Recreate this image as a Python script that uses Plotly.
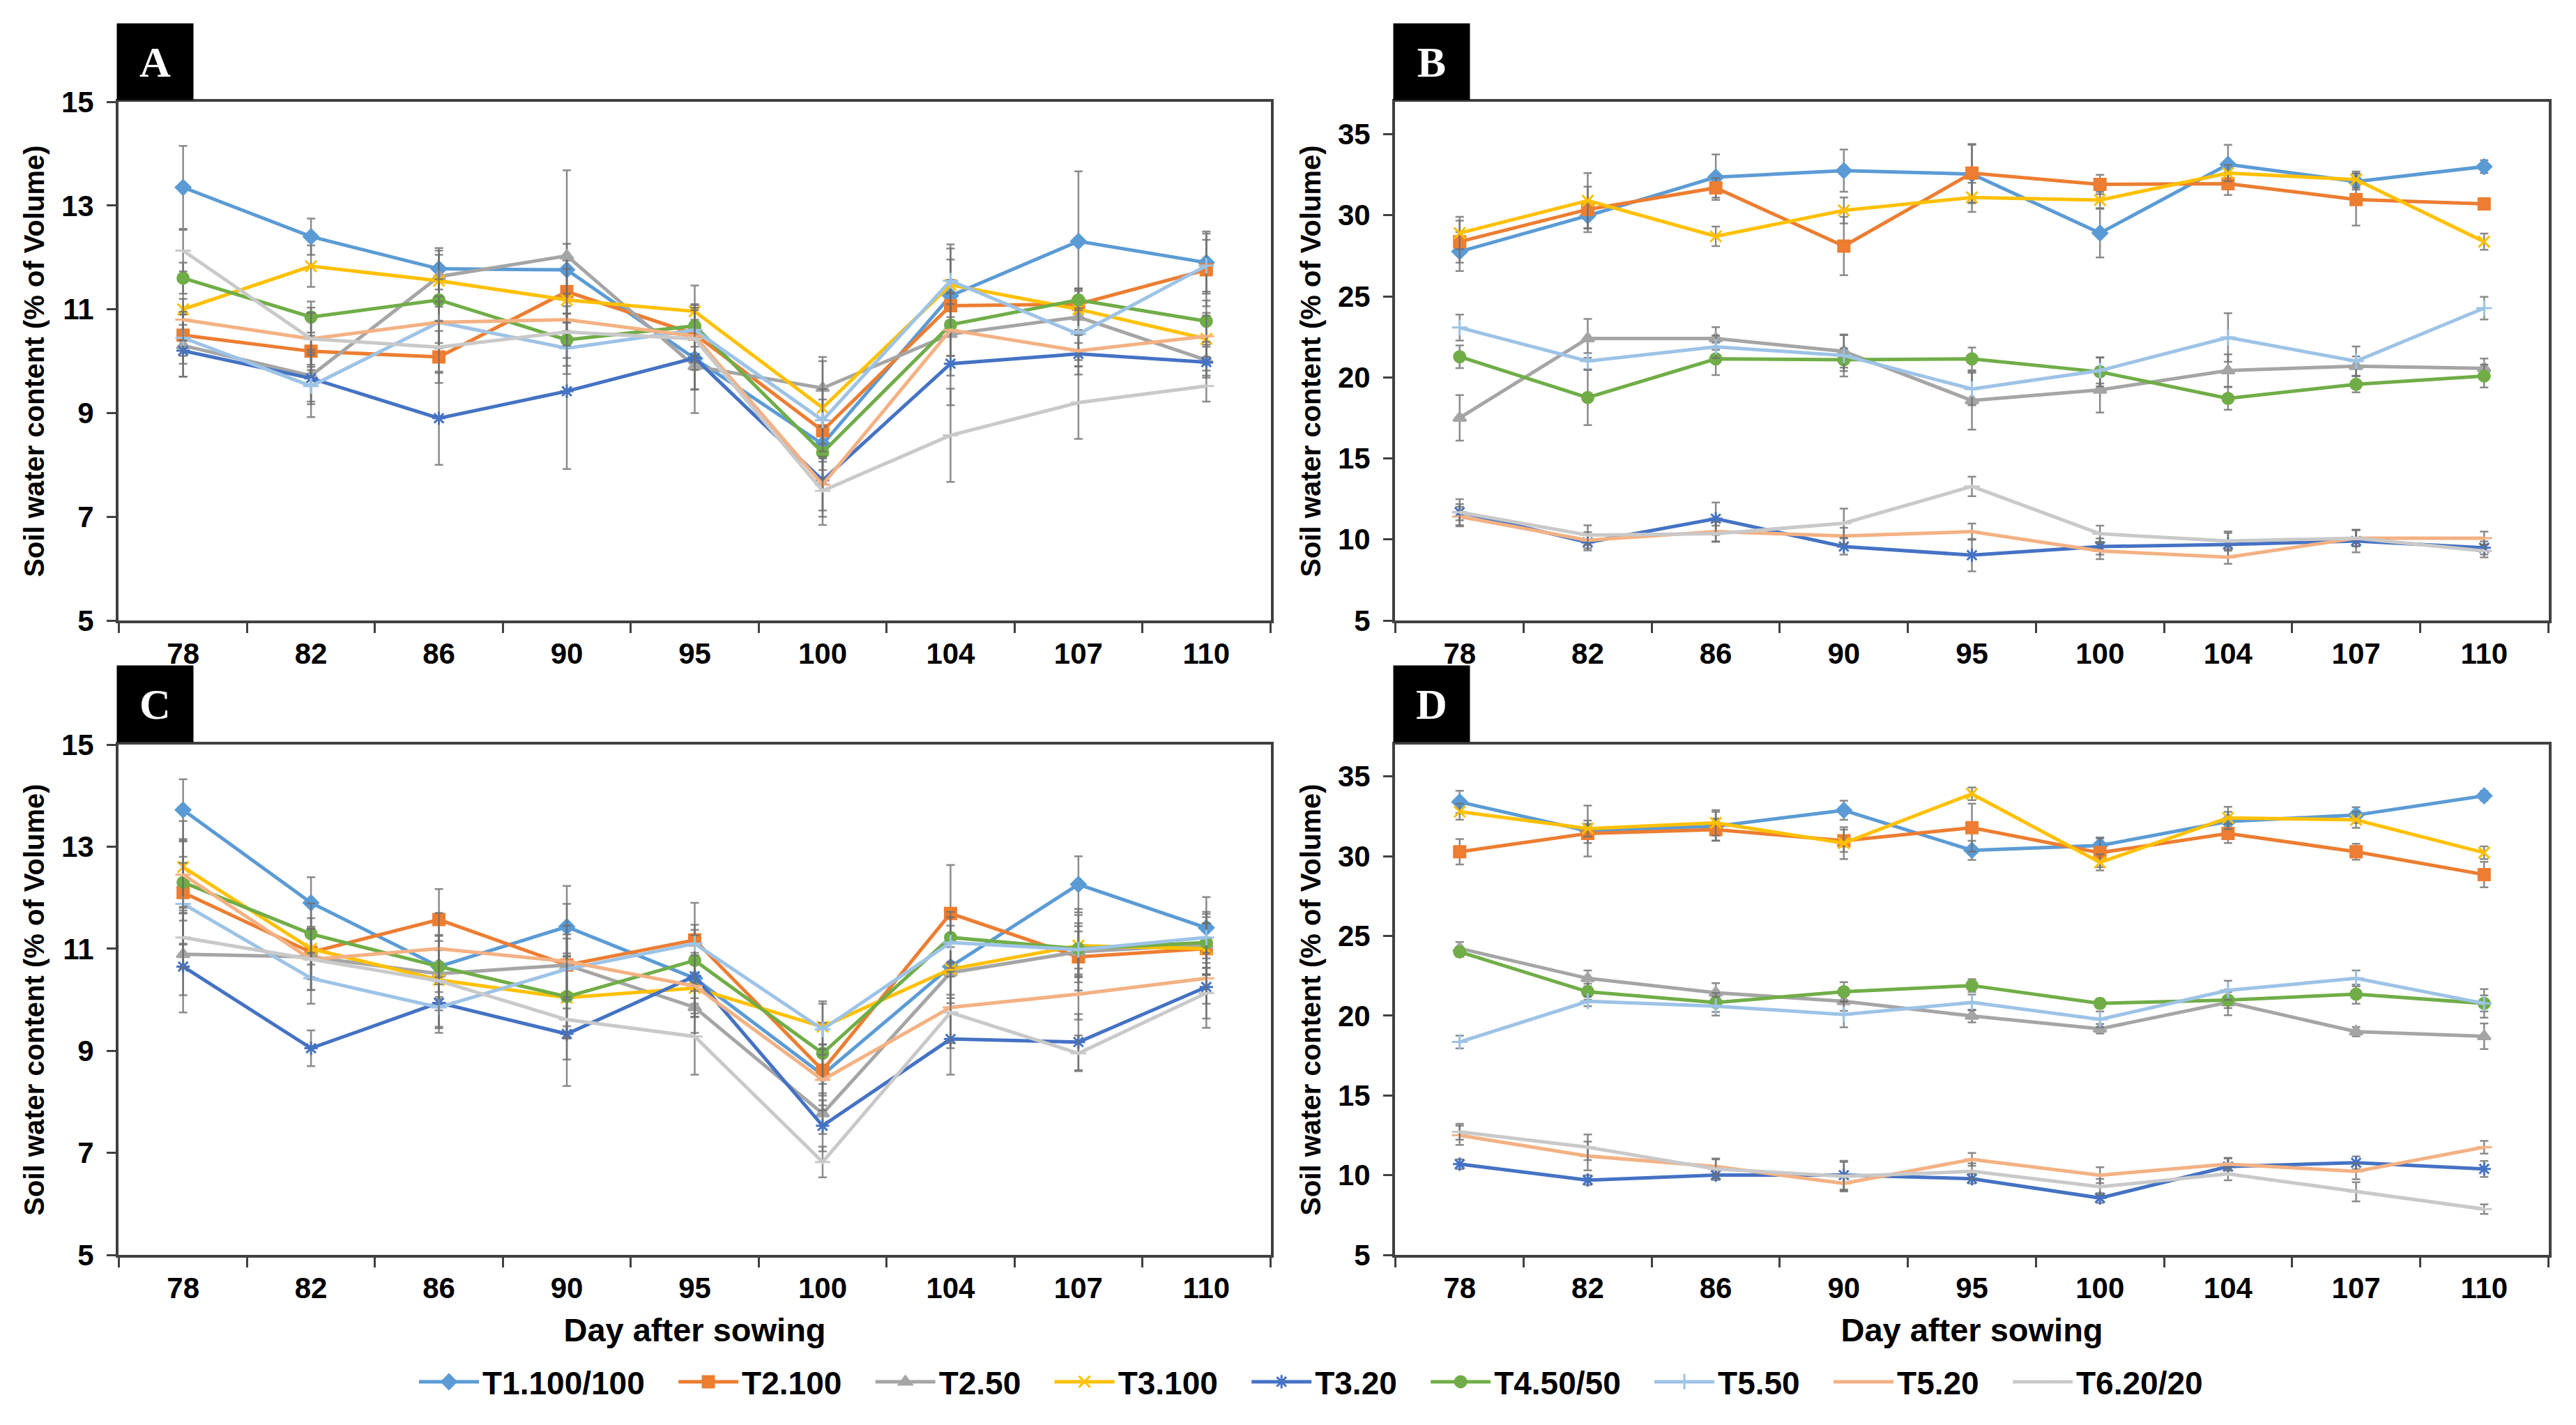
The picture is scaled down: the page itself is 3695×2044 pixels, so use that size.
import plotly.graph_objects as go

days = ["78", "82", "86", "90", "95", "100", "104", "107", "110"]
names = ["T1.100/100", "T2.100", "T2.50", "T3.100", "T3.20", "T4.50/50", "T5.50", "T5.20", "T6.20/20"]
colors = ["#5B9BD5", "#ED7D31", "#A5A5A5", "#FFC000", "#4472C4", "#70AD47", "#9DC3E6", "#F4B183", "#C9C9C9"]
symbols = ["diamond", "square", "triangle-up", "x-thin-open", "asterisk-open", "circle", "cross-thin-open", "line-ew-open", "line-ew-open"]

# Panel A (order follows names)
a_mean = [
    [13.35, 12.40, 11.78, 11.76, 10.05, 8.40, 11.26, 12.31, 11.90],
    [10.50, 10.19, 10.08, 11.34, 10.52, 8.66, 11.07, 11.10, 11.76],
    [10.30, 9.72, 11.63, 12.03, 9.90, 9.48, 10.52, 10.85, 10.02],
    [11.00, 11.83, 11.55, 11.18, 10.96, 9.10, 11.47, 11.00, 10.43],
    [10.20, 9.67, 8.90, 9.42, 10.06, 7.70, 9.95, 10.14, 9.98],
    [11.60, 10.85, 11.18, 10.41, 10.68, 8.24, 10.70, 11.18, 10.77],
    [10.45, 9.52, 10.75, 10.25, 10.60, 8.86, 11.55, 10.52, 11.84],
    [10.80, 10.43, 10.75, 10.80, 10.48, 7.62, 10.60, 10.20, 10.48],
    [12.13, 10.43, 10.27, 10.56, 10.43, 7.50, 8.57, 9.20, 9.52],
]
a_err = [
    [0.80, 0.35, 0.40, 0.50, 0.60, 0.50, 0.70, 1.35, 0.60],
    [0.40, 0.30, 0.50, 0.60, 0.50, 0.60, 0.50, 0.30, 0.70],
    [0.60, 0.50, 0.50, 1.65, 0.90, 0.60, 0.80, 0.50, 0.30],
    [0.60, 0.40, 0.50, 0.60, 0.50, 0.90, 0.70, 0.40, 0.50],
    [0.50, 0.50, 0.90, 1.50, 0.60, 0.70, 0.80, 0.40, 0.30],
    [0.30, 0.30, 0.40, 0.50, 0.40, 0.50, 0.60, 0.20, 0.40],
    [0.50, 0.60, 0.50, 0.50, 0.50, 0.60, 0.70, 0.50, 0.50],
    [0.40, 0.50, 0.40, 0.50, 0.50, 0.50, 0.50, 0.30, 0.40],
    [0.40, 0.60, 0.50, 0.50, 0.60, 0.66, 0.90, 0.70, 0.30],
]

# Panel B
b_mean = [
    [27.76, 29.97, 32.35, 32.75, 32.54, 28.90, 33.14, 32.08, 33.00],
    [28.37, 30.36, 31.69, 28.10, 32.60, 31.90, 31.95, 30.97, 30.70],
    [17.50, 22.40, 22.40, 21.60, 18.57, 19.23, 20.42, 20.69, 20.56],
    [28.90, 30.90, 28.70, 30.30, 31.10, 30.94, 32.60, 32.20, 28.37],
    [11.68, 9.82, 11.28, 9.56, 9.03, 9.56, 9.69, 9.90, 9.48],
    [21.27, 18.75, 21.14, 21.09, 21.14, 20.34, 18.70, 19.57, 20.08],
    [23.07, 21.00, 21.88, 21.35, 19.28, 20.42, 22.46, 21.00, 24.27],
    [11.41, 9.95, 10.48, 10.22, 10.48, 9.29, 8.90, 10.08, 10.08],
    [11.68, 10.27, 10.35, 11.00, 13.27, 10.35, 9.90, 10.08, 9.29],
]
b_err = [
    [1.20, 0.80, 1.40, 1.30, 1.80, 1.50, 1.20, 0.50, 0.40],
    [1.30, 1.40, 0.60, 1.80, 1.80, 0.60, 0.70, 1.60, 0.30],
    [1.40, 1.20, 0.70, 1.00, 1.80, 1.40, 1.00, 0.60, 0.60],
    [1.00, 1.70, 0.60, 0.80, 0.90, 0.50, 0.50, 0.50, 0.50],
    [0.80, 0.50, 1.00, 0.50, 1.00, 0.50, 0.80, 0.70, 0.40],
    [0.70, 1.70, 1.00, 0.70, 0.70, 0.90, 0.70, 0.50, 0.70],
    [0.80, 0.50, 0.70, 1.30, 1.00, 0.80, 1.50, 0.90, 0.70],
    [0.60, 0.50, 0.60, 0.50, 0.50, 0.50, 0.40, 0.50, 0.40],
    [0.50, 0.60, 0.50, 0.90, 0.60, 0.50, 0.50, 0.50, 0.40],
]

# Panel C
c_mean = [
    [13.72, 11.90, 10.65, 11.43, 10.42, 8.53, 10.65, 12.26, 11.41],
    [12.10, 10.93, 11.57, 10.68, 11.17, 8.62, 11.69, 10.84, 11.00],
    [10.89, 10.84, 10.51, 10.68, 9.85, 7.77, 10.53, 10.94, 11.08],
    [12.60, 11.00, 10.39, 10.04, 10.23, 9.47, 10.60, 11.06, 11.00],
    [10.65, 9.05, 9.94, 9.33, 10.46, 7.53, 9.23, 9.17, 10.25],
    [12.30, 11.29, 10.65, 10.06, 10.77, 8.95, 11.22, 11.00, 11.12],
    [11.88, 10.42, 9.85, 10.60, 11.10, 9.42, 11.12, 10.98, 11.22],
    [12.45, 10.79, 11.00, 10.75, 10.27, 8.43, 9.85, 10.11, 10.42],
    [11.22, 10.79, 10.37, 9.61, 9.28, 6.82, 9.75, 8.95, 10.13],
]
c_err = [
    [0.60, 0.50, 0.50, 0.80, 0.50, 0.60, 0.80, 0.55, 0.60],
    [1.00, 0.50, 0.60, 0.60, 0.30, 0.50, 0.95, 0.50, 0.50],
    [0.80, 0.40, 0.50, 1.20, 0.50, 0.40, 0.50, 0.50, 0.60],
    [0.90, 0.60, 0.60, 0.80, 0.50, 0.50, 0.50, 0.60, 0.50],
    [0.90, 0.35, 0.50, 0.50, 0.80, 0.50, 0.70, 0.55, 0.80],
    [0.50, 0.60, 0.60, 0.80, 0.60, 0.60, 0.50, 0.50, 0.50],
    [0.80, 0.50, 0.50, 0.60, 0.80, 0.50, 0.50, 0.80, 0.50],
    [0.70, 0.60, 0.70, 0.70, 0.60, 0.60, 0.70, 0.50, 0.50],
    [0.60, 0.60, 0.90, 1.30, 0.75, 0.30, 0.70, 0.35, 0.50],
]

# Panel D
d_mean = [
    [33.40, 31.58, 31.88, 32.88, 30.37, 30.67, 32.18, 32.58, 33.79],
    [30.28, 31.43, 31.67, 30.97, 31.79, 30.22, 31.43, 30.28, 28.85],
    [24.22, 22.34, 21.44, 20.90, 19.98, 19.18, 20.83, 19.00, 18.71],
    [32.79, 31.73, 32.09, 30.82, 33.91, 29.61, 32.40, 32.28, 30.22],
    [10.69, 9.69, 10.00, 10.00, 9.78, 8.57, 10.54, 10.78, 10.39],
    [24.00, 21.50, 20.83, 21.50, 21.89, 20.77, 20.98, 21.35, 20.77],
    [18.35, 20.90, 20.60, 20.07, 20.83, 19.77, 21.59, 22.34, 20.77],
    [12.50, 11.20, 10.54, 9.48, 10.99, 10.00, 10.69, 10.24, 11.75],
    [12.72, 11.75, 10.39, 9.93, 10.24, 9.27, 10.08, 8.96, 7.87],
]
d_err = [
    [0.70, 1.60, 0.90, 0.60, 0.60, 0.50, 0.60, 0.50, 0.30],
    [0.80, 0.60, 0.70, 0.70, 1.50, 0.90, 0.60, 0.50, 0.80],
    [0.40, 0.50, 0.60, 0.60, 0.40, 0.30, 0.80, 0.30, 0.80],
    [0.50, 0.50, 0.80, 1.00, 0.40, 0.50, 0.70, 0.50, 0.40],
    [0.30, 0.30, 0.30, 0.90, 0.30, 0.30, 0.50, 0.40, 0.50],
    [0.30, 0.50, 0.60, 0.60, 0.40, 0.30, 0.50, 0.60, 0.90],
    [0.40, 0.30, 0.60, 0.80, 0.50, 0.50, 0.60, 0.50, 0.50],
    [0.60, 0.90, 0.50, 0.50, 0.40, 0.50, 0.40, 0.50, 0.40],
    [0.50, 0.80, 0.60, 0.90, 0.50, 0.50, 0.40, 0.60, 0.30],
]

panel_letters = ["A", "B", "C", "D"]
x_title = "Day after sowing"
y_title = "Soil water content (% of Volume)"

W, H = 3695, 2044
SANS = "Liberation Sans, Arial, sans-serif"
SERIF = "Liberation Serif, Times New Roman, serif"

# pixel boxes of plot areas (left, right, top, bottom)
boxes = [(170, 1823, 146, 890), (2001, 3656, 146, 890),
         (170, 1823, 1068, 1800), (2001, 3656, 1068, 1800)]

fig = go.Figure()
panels = [(a_mean, a_err), (b_mean, b_err), (c_mean, c_err), (d_mean, d_err)]
PAD = "\u00a0" * 3
for p, (means, errs) in enumerate(panels):
    ax = "" if p == 0 else str(p + 1)
    for i, name in enumerate(names):
        fig.add_trace(go.Scatter(
            x=days, y=means[i], name=name + PAD, mode="lines+markers",
            xaxis="x" + ax, yaxis="y" + ax,
            line=dict(color=colors[i], width=5),
            marker=dict(symbol=symbols[i], size=16, color=colors[i],
                        line=dict(color=colors[i], width=3)),
            error_y=dict(type="data", array=errs[i], visible=True,
                         color="rgba(110,110,110,0.8)", thickness=2.5, width=6),
            showlegend=(p == 0), legendgroup=name,
        ))

layout = dict(
    width=W, height=H, margin=dict(l=0, r=0, t=0, b=0, autoexpand=False),
    paper_bgcolor="white", plot_bgcolor="white",
    showlegend=True,
    legend=dict(orientation="h", x=596 / W, xanchor="left", y=1 - 1982 / H, yanchor="middle",
                font=dict(family=SANS, size=46, color="black", weight="bold"),
                itemwidth=86, tracegroupgap=0, bgcolor="rgba(0,0,0,0)"),
)
annotations = []
for p in range(4):
    ax = "" if p == 0 else str(p + 1)
    l, r, t, b = boxes[p]
    xd = [l / W, r / W]
    yd = [1 - b / H, 1 - t / H]
    big = p in (1, 3)
    layout["xaxis" + ax] = dict(
        domain=xd, anchor="y" + ax, type="category",
        tickson="boundaries", ticks="outside", ticklen=14, tickwidth=3, tickcolor="#404040",
        showline=True, linecolor="#404040", linewidth=4, mirror=True,
        showgrid=False, zeroline=False, ticklabelstandoff=8,
        tickfont=dict(family=SANS, size=42, color="black", weight="bold"),
        title=dict(text=x_title if p >= 2 else "", standoff=22,
                   font=dict(family=SANS, size=47, color="black", weight="bold")),
    )
    layout["yaxis" + ax] = dict(
        domain=yd, anchor="x" + ax,
        range=[5, 37] if big else [5, 15], tick0=5, dtick=5 if big else 2,
        ticks="outside", ticklen=13, tickwidth=3, tickcolor="#404040",
        showline=True, linecolor="#404040", linewidth=4, mirror=True,
        showgrid=False, zeroline=False, ticklabelstandoff=10,
        tickfont=dict(family=SANS, size=42, color="black", weight="bold"),
        title=dict(text=y_title, standoff=13,
                   font=dict(family=SANS, size=40, color="black", weight="bold")),
    )
    annotations.append(dict(
        text=panel_letters[p], xref="paper", yref="paper",
        x=(l + 52) / W, y=1 - (t - 58) / H, xanchor="center", yanchor="middle",
        showarrow=False, bgcolor="black", width=107, height=107,
        font=dict(family=SERIF, size=62, color="white", weight="bold"),
    ))
layout["annotations"] = annotations
fig.update_layout(**layout)

fig.write_html("out.html", config={"displayModeBar": False},
               post_script="document.body.style.margin='0';")
